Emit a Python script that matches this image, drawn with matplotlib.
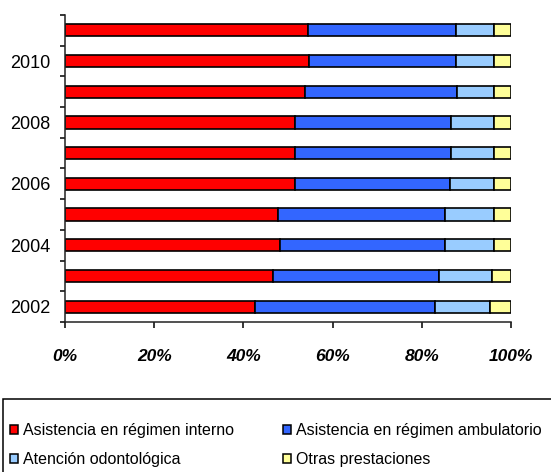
import matplotlib
matplotlib.use("Agg")
import matplotlib.pyplot as plt
from matplotlib.patches import Rectangle, Patch
import numpy as np

years = [2002, 2003, 2004, 2005, 2006, 2007, 2008, 2009, 2010, 2011]
interno = [42.6, 46.7, 48.2, 47.8, 51.6, 51.6, 51.6, 53.7, 54.8, 54.4]
ambulatorio = [40.3, 37.2, 37.0, 37.4, 34.8, 35.0, 35.0, 34.1, 32.8, 33.2]
odontologica = [12.5, 11.8, 10.9, 10.9, 9.7, 9.5, 9.5, 8.5, 8.5, 8.5]
otras = [4.6, 4.3, 3.9, 3.9, 3.9, 3.9, 3.9, 3.7, 3.9, 3.9]

series = [interno, ambulatorio, odontologica, otras]
labels = ["Asistencia en régimen interno", "Asistencia en régimen ambulatorio",
          "Atención odontológica", "Otras prestaciones"]
colors = ["#FF0000", "#3366FF", "#99CCFF", "#FFFF99"]
xticks = [0, 20, 40, 60, 80, 100]

plt.rcParams["font.family"] = ["Liberation Sans", "DejaVu Sans"]

fig = plt.figure(figsize=(5.51, 4.72), dpi=100, facecolor="white")
ax = fig.add_axes([65 / 551, 1 - 322 / 472, 446 / 551, 307 / 472])

pos = np.arange(len(years))
left = np.zeros(len(years))
for vals, color in zip(series, colors):
    ax.barh(pos, vals, left=left, height=0.4, color=color, edgecolor="black", linewidth=1.2)
    left += np.array(vals)

ax.set_xlim(0, 100)
ax.set_ylim(-0.5, len(years) - 0.5)

# x axis: bold italic percent labels
ax.set_xticks(xticks)
ax.set_xticklabels([f"{t}%" for t in xticks], fontsize=12.5, fontweight="bold", fontstyle="italic")
ax.tick_params(axis="x", direction="out", length=4.3, width=1.1, pad=15)

# y axis: ticks between categories, labels on even years
ax.set_yticks(np.arange(-0.5, len(years), 1.0))
ax.set_yticklabels([])
ax.tick_params(axis="y", which="major", direction="out", length=3.6, width=1.1)
ax.set_yticks(pos, minor=True)
ax.set_yticklabels([str(y) if y % 2 == 0 else "" for y in years], minor=True, fontsize=13)
ax.tick_params(axis="y", which="minor", length=0, pad=10.5)

for side in ["top", "right"]:
    ax.spines[side].set_visible(False)
for side in ["left", "bottom"]:
    ax.spines[side].set_linewidth(1.1)
    ax.spines[side].set_color("#222222")

# legend frame running off the figure edge
fig.patches.append(Rectangle((3 / 551, -0.05), 1.1, 0.05 + 1 - 399 / 472, transform=fig.transFigure,
                             facecolor="white", edgecolor="black", linewidth=1.1))
handles = [Patch(facecolor=c, edgecolor="black", linewidth=1.1) for c in colors]
order = [0, 2, 1, 3]
fig.legend([handles[i] for i in order], [labels[i] for i in order], ncol=2,
           loc="upper left", bbox_to_anchor=(10 / 551, 1 - 423 / 472), frameon=False,
           fontsize=11.5, borderpad=0, borderaxespad=0, handlelength=0.5, handleheight=0.5,
           handletextpad=0.3, columnspacing=3.1, labelspacing=0.9)

fig.savefig("out.png", dpi=100, facecolor="white")
